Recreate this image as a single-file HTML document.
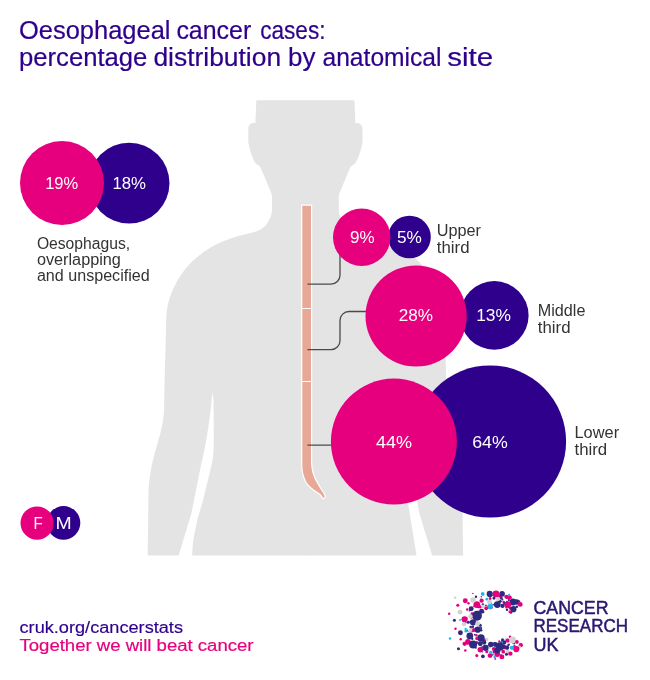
<!DOCTYPE html>
<html><head><meta charset="utf-8"><title>Oesophageal cancer cases</title>
<style>html,body{margin:0;padding:0;background:#fff}svg{display:block}text{font-family:"Liberation Sans",sans-serif}</style>
</head><body>
<svg width="650" height="680" viewBox="0 0 650 680">
<rect width="650" height="680" fill="#fff"/>
<text x="19.0" y="38.6" font-size="25" fill="#2e008b" text-anchor="start" textLength="151.5" lengthAdjust="spacingAndGlyphs" stroke="#2e008b" stroke-width="0.2">Oesophageal</text>
<text x="176.4" y="38.6" font-size="25" fill="#2e008b" text-anchor="start" textLength="74.9" lengthAdjust="spacingAndGlyphs" stroke="#2e008b" stroke-width="0.2">cancer</text>
<text x="260.2" y="38.6" font-size="25" fill="#2e008b" text-anchor="start" textLength="65.3" lengthAdjust="spacingAndGlyphs" stroke="#2e008b" stroke-width="0.2">cases:</text>
<text x="19.0" y="66.3" font-size="25" fill="#2e008b" text-anchor="start" textLength="128.4" lengthAdjust="spacingAndGlyphs" stroke="#2e008b" stroke-width="0.2">percentage</text>
<text x="153.4" y="66.3" font-size="25" fill="#2e008b" text-anchor="start" textLength="127.7" lengthAdjust="spacingAndGlyphs" stroke="#2e008b" stroke-width="0.2">distribution</text>
<text x="288.1" y="66.3" font-size="25" fill="#2e008b" text-anchor="start" textLength="27.4" lengthAdjust="spacingAndGlyphs" stroke="#2e008b" stroke-width="0.2">by</text>
<text x="322.5" y="66.3" font-size="25" fill="#2e008b" text-anchor="start" textLength="119.0" lengthAdjust="spacingAndGlyphs" stroke="#2e008b" stroke-width="0.2">anatomical</text>
<text x="447.2" y="66.3" font-size="25" fill="#2e008b" text-anchor="start" textLength="45.9" lengthAdjust="spacingAndGlyphs" stroke="#2e008b" stroke-width="0.2">site</text>
<path d="M305.9,100.2 L257.2,100.2 Q256.3,100.2 256.3,101.2 L255.4,123.2 C252,122.6 248.3,124.5 248.3,129 L248.3,141.5 C249,147 250.5,152 252.3,156.5 C253.5,160 255,163.6 257.5,164.8 C259.5,165.6 260.2,167 261,168.5 L263.5,174.5 L269.8,189.5 C271.2,192.8 272,194.5 272,197.5 L272,209 C272,213 271.2,215.8 270.2,217.8 C268.5,221.5 266.8,224.3 264.6,226.5 C261,230 256.5,231.4 252.3,232.5 C246,234.2 239,235.8 231.2,238.2 C224,240.6 217.5,243.4 211.5,246.9 C205,250.7 199.5,254.8 194.3,259.6 C189.5,264 185.5,268.6 182,273.6 C178,279.4 174.8,285 172.2,291 C169.8,296.6 168.2,302.3 167.2,308.3 C166.3,314 166,320 166,328 L165.2,360 L164.6,380 L164,410 C163.8,424 158.5,440 154.6,453.8 C152,463 148.9,478 148.5,492 L147.7,555.4 L305.9,555.4 Z" fill="#e4e4e4"/>
<path d="M304.9,100.2 L353.6,100.2 Q354.5,100.2 354.5,101.2 L355.4,123.2 C358.8,122.6 362.5,124.5 362.5,129 L362.5,141.5 C361.8,147 360.3,152 358.5,156.5 C357.3,160 355.8,163.6 353.3,164.8 C351.3,165.6 350.6,167 349.8,168.5 L347.3,174.5 L341.0,189.5 C339.6,192.8 338.8,194.5 338.8,197.5 L338.8,209 C338.8,213 339.6,215.8 340.6,217.8 C342.3,221.5 344.0,224.3 346.2,226.5 C349.8,230 354.3,231.4 358.5,232.5 C364.8,234.2 371.8,235.8 379.6,238.2 C386.8,240.6 393.3,243.4 399.3,246.9 C405.8,250.7 411.3,254.8 416.5,259.6 C421.3,264 425.3,268.6 428.8,273.6 C432.8,279.4 436.0,285 438.6,291 C441.0,296.6 442.6,302.3 443.6,308.3 C444.5,314 444.8,320 444.8,328 L445.6,360 L446.2,380 L446.8,410 C447.0,424 452.3,440 456.2,453.8 C458.8,463 461.9,478 462.3,492 L463.1,555.4 L304.9,555.4 Z" fill="#e4e4e4"/>
<path d="M212.3,392 C211.5,404 210,416 208.5,426 C207.3,434 206,442 204.6,449 L200,470 L191.5,513 L178.5,556 L192.1,556 C192.4,550 192.8,544 193.5,538.8 L197.4,519.4 L202.6,501.8 L207.0,484.1 L210.8,468.2 C212.5,462 213.3,456 213.5,450.6 L213.8,441.5 L213.5,400 Z" fill="#fff"/>
<path d="M398.5,392 C399.3,404 400.8,416 402.3,426 C403.5,434 404.8,442 406.2,449 L410.8,470 L419.3,513 L432.3,556 L416.6,556 L410.7,519.4 L407.8,501.8 L403.8,484.1 L400.0,468.2 C398.3,462 397.5,456 397.3,450.6 L397.0,441.5 L397.3,400 Z" fill="#fff"/>
<path d="M302.3,205.8 L311,205.8 L311,463.7 C311.2,467 311.8,470 312.5,472.9 C313.5,476.5 315,479.5 316.5,482.2 C318,485 319.5,487.6 321.1,490.1 C322.5,492.2 323.8,494 324.4,495.4 C324.8,496.6 324.3,497.6 323.3,498.2 C322.5,496.5 321.6,495.2 320.4,494.1 C318.6,492.7 316.5,491.5 314.5,490.1 C312.3,488.5 310.2,486.8 308.5,484.8 C306.3,482.2 304.8,479 303.9,475.6 C302.8,472 302.3,468 302.3,463.7 Z" fill="#fff" stroke="#fff" stroke-width="2.4" stroke-linejoin="round"/>
<path d="M302.3,205.8 L311,205.8 L311,463.7 C311.2,467 311.8,470 312.5,472.9 C313.5,476.5 315,479.5 316.5,482.2 C318,485 319.5,487.6 321.1,490.1 C322.5,492.2 323.8,494 324.4,495.4 C324.8,496.6 324.3,497.6 323.3,498.2 C322.5,496.5 321.6,495.2 320.4,494.1 C318.6,492.7 316.5,491.5 314.5,490.1 C312.3,488.5 310.2,486.8 308.5,484.8 C306.3,482.2 304.8,479 303.9,475.6 C302.8,472 302.3,468 302.3,463.7 Z" fill="#e8a896"/>
<path d="M302.3,308.5H311M302.3,381.5H311" stroke="#fff" stroke-width="1.2"/>
<path d="M307.5,284.2H331a9,9 0 0 0 9,-9V255 M307.5,349.7H331a9,9 0 0 0 9,-9V320.5a9,9 0 0 1 9,-9H368 M307.5,445.2H333" fill="none" stroke="#4a4a4a" stroke-width="1.3"/>
<circle cx="129.1" cy="183.1" r="40.4" fill="#2e008b"/>
<circle cx="62.0" cy="183.0" r="42.0" fill="#e6007e"/>
<circle cx="409.5" cy="237.0" r="21.3" fill="#2e008b"/>
<circle cx="361.7" cy="237.2" r="28.7" fill="#e6007e"/>
<circle cx="494.3" cy="315.4" r="34.3" fill="#2e008b"/>
<circle cx="416.1" cy="316.0" r="50.6" fill="#e6007e"/>
<circle cx="490.0" cy="441.5" r="76.1" fill="#2e008b"/>
<circle cx="393.9" cy="441.6" r="63.0" fill="#e6007e"/>
<circle cx="63.5" cy="522.9" r="16.8" fill="#2e008b"/>
<circle cx="37.1" cy="523.1" r="16.6" fill="#e6007e"/>
<text x="45.2" y="188.9" font-size="17" fill="#fff" text-anchor="start" textLength="33.0" lengthAdjust="spacingAndGlyphs">19%</text>
<text x="112.4" y="188.9" font-size="17" fill="#fff" text-anchor="start" textLength="33.6" lengthAdjust="spacingAndGlyphs">18%</text>
<text x="350.0" y="243.0" font-size="17" fill="#fff" text-anchor="start" textLength="24.6" lengthAdjust="spacingAndGlyphs">9%</text>
<text x="396.9" y="242.8" font-size="17" fill="#fff" text-anchor="start" textLength="24.9" lengthAdjust="spacingAndGlyphs">5%</text>
<text x="398.8" y="321.0" font-size="17" fill="#fff" text-anchor="start" textLength="34.3" lengthAdjust="spacingAndGlyphs">28%</text>
<text x="476.2" y="321.0" font-size="17" fill="#fff" text-anchor="start" textLength="34.8" lengthAdjust="spacingAndGlyphs">13%</text>
<text x="375.9" y="447.6" font-size="17" fill="#fff" text-anchor="start" textLength="36.1" lengthAdjust="spacingAndGlyphs">44%</text>
<text x="472.2" y="447.8" font-size="17" fill="#fff" text-anchor="start" textLength="35.6" lengthAdjust="spacingAndGlyphs">64%</text>
<text x="33.4" y="529.3" font-size="17" fill="#fff" text-anchor="start" textLength="9.2" lengthAdjust="spacingAndGlyphs">F</text>
<text x="55.5" y="529.3" font-size="17" fill="#fff" text-anchor="start" textLength="16.2" lengthAdjust="spacingAndGlyphs">M</text>
<text x="36.9" y="248.6" font-size="16" fill="#333333" text-anchor="start" textLength="93.2" lengthAdjust="spacingAndGlyphs">Oesophagus,</text>
<text x="36.9" y="264.9" font-size="16" fill="#333333" text-anchor="start" textLength="84.0" lengthAdjust="spacingAndGlyphs">overlapping</text>
<text x="36.9" y="281.1" font-size="16" fill="#333333" text-anchor="start" textLength="112.8" lengthAdjust="spacingAndGlyphs">and unspecified</text>
<text x="436.8" y="236.0" font-size="16" fill="#333333" text-anchor="start" textLength="44.2" lengthAdjust="spacingAndGlyphs">Upper</text>
<text x="436.8" y="252.6" font-size="16" fill="#333333" text-anchor="start" textLength="32.7" lengthAdjust="spacingAndGlyphs">third</text>
<text x="537.8" y="315.9" font-size="16" fill="#333333" text-anchor="start" textLength="47.6" lengthAdjust="spacingAndGlyphs">Middle</text>
<text x="537.8" y="332.7" font-size="16" fill="#333333" text-anchor="start" textLength="32.7" lengthAdjust="spacingAndGlyphs">third</text>
<text x="574.5" y="437.7" font-size="16" fill="#333333" text-anchor="start" textLength="44.6" lengthAdjust="spacingAndGlyphs">Lower</text>
<text x="574.5" y="454.5" font-size="16" fill="#333333" text-anchor="start" textLength="32.7" lengthAdjust="spacingAndGlyphs">third</text>
<text x="19.5" y="633.1" font-size="16" fill="#2e008b" text-anchor="start" textLength="163.5" lengthAdjust="spacingAndGlyphs" stroke="#2e008b" stroke-width="0.15">cruk.org/cancerstats</text>
<text x="19.5" y="650.5" font-size="16" fill="#e6007e" text-anchor="start" textLength="234.0" lengthAdjust="spacingAndGlyphs" stroke="#e6007e" stroke-width="0.2">Together we will beat cancer</text>
<text x="533.5" y="613.6" font-size="18" fill="#2b1770" text-anchor="start" textLength="75.0" lengthAdjust="spacingAndGlyphs" stroke="#2b1770" stroke-width="0.5">CANCER</text>
<text x="533.5" y="632.1" font-size="18" fill="#2b1770" text-anchor="start" textLength="94.5" lengthAdjust="spacingAndGlyphs" stroke="#2b1770" stroke-width="0.5">RESEARCH</text>
<text x="533.5" y="650.5" font-size="18" fill="#2b1770" text-anchor="start" textLength="25.0" lengthAdjust="spacingAndGlyphs" stroke="#2b1770" stroke-width="0.5">UK</text>
<circle cx="506.9" cy="601.7" r="0.96" fill="#2e2a80"/>
<circle cx="503.3" cy="640.8" r="1.29" fill="#1fb4e8"/>
<circle cx="519.8" cy="604.7" r="1.05" fill="#e6007e"/>
<circle cx="504.7" cy="648.0" r="1.48" fill="#1fb4e8"/>
<circle cx="494.3" cy="651.8" r="1.62" fill="#e6007e"/>
<circle cx="494.5" cy="650.9" r="1.52" fill="#2e2a80"/>
<circle cx="498.5" cy="600.6" r="1.51" fill="#2e2a80"/>
<circle cx="501.3" cy="642.2" r="1.14" fill="#e6007e"/>
<circle cx="493.2" cy="604.6" r="0.87" fill="#2e2a80"/>
<circle cx="483.9" cy="641.5" r="1.63" fill="#2e2a80"/>
<circle cx="508.9" cy="600.1" r="1.10" fill="#2e2a80"/>
<circle cx="501.1" cy="597.9" r="1.57" fill="#2e2a80"/>
<circle cx="502.4" cy="599.4" r="0.98" fill="#2e2a80"/>
<circle cx="474.7" cy="634.6" r="0.93" fill="#2e2a80"/>
<circle cx="480.6" cy="598.6" r="0.54" fill="#d2d2d2"/>
<circle cx="503.9" cy="648.3" r="1.01" fill="#2e2a80"/>
<circle cx="489.6" cy="647.8" r="1.24" fill="#d2d2d2"/>
<circle cx="499.2" cy="641.4" r="1.04" fill="#e6007e"/>
<circle cx="504.1" cy="652.6" r="0.54" fill="#2e2a80"/>
<circle cx="485.0" cy="639.9" r="1.35" fill="#e6007e"/>
<circle cx="509.1" cy="594.9" r="1.12" fill="#1fb4e8"/>
<circle cx="487.0" cy="646.3" r="0.90" fill="#e6007e"/>
<circle cx="467.1" cy="630.5" r="1.05" fill="#e6007e"/>
<circle cx="502.3" cy="642.1" r="0.94" fill="#1fb4e8"/>
<circle cx="474.5" cy="622.4" r="1.52" fill="#d2d2d2"/>
<circle cx="471.3" cy="623.8" r="0.81" fill="#2e2a80"/>
<circle cx="486.5" cy="646.5" r="1.16" fill="#2e2a80"/>
<circle cx="493.0" cy="654.3" r="1.16" fill="#1fb4e8"/>
<circle cx="483.6" cy="642.6" r="1.56" fill="#d2d2d2"/>
<circle cx="499.0" cy="649.3" r="1.62" fill="#e6007e"/>
<circle cx="476.3" cy="621.4" r="1.45" fill="#d2d2d2"/>
<circle cx="472.0" cy="613.8" r="1.48" fill="#e6007e"/>
<circle cx="499.8" cy="596.5" r="1.65" fill="#e6007e"/>
<circle cx="465.6" cy="628.9" r="1.11" fill="#1fb4e8"/>
<circle cx="481.1" cy="630.2" r="1.27" fill="#2e2a80"/>
<circle cx="480.2" cy="625.3" r="1.53" fill="#2e2a80"/>
<circle cx="507.9" cy="645.6" r="1.29" fill="#e6007e"/>
<circle cx="486.3" cy="650.2" r="0.80" fill="#1fb4e8"/>
<circle cx="519.5" cy="601.2" r="0.87" fill="#e6007e"/>
<circle cx="506.3" cy="607.6" r="1.01" fill="#e6007e"/>
<circle cx="471.0" cy="629.0" r="0.97" fill="#d2d2d2"/>
<circle cx="471.4" cy="617.6" r="1.24" fill="#e6007e"/>
<circle cx="471.7" cy="630.3" r="1.62" fill="#e6007e"/>
<circle cx="469.8" cy="637.4" r="0.78" fill="#e6007e"/>
<circle cx="472.3" cy="638.9" r="1.12" fill="#2e2a80"/>
<circle cx="466.7" cy="618.1" r="0.85" fill="#2e2a80"/>
<circle cx="487.6" cy="607.0" r="1.03" fill="#e6007e"/>
<circle cx="487.1" cy="650.5" r="1.48" fill="#1fb4e8"/>
<circle cx="514.2" cy="602.5" r="0.97" fill="#e6007e"/>
<circle cx="471.8" cy="631.2" r="1.38" fill="#e6007e"/>
<circle cx="491.4" cy="595.3" r="1.17" fill="#2e2a80"/>
<circle cx="480.6" cy="628.1" r="1.54" fill="#2e2a80"/>
<circle cx="478.4" cy="607.0" r="1.37" fill="#e6007e"/>
<circle cx="514.4" cy="646.3" r="1.31" fill="#e6007e"/>
<circle cx="479.9" cy="628.4" r="0.81" fill="#d2d2d2"/>
<circle cx="476.6" cy="637.9" r="1.40" fill="#d2d2d2"/>
<circle cx="504.9" cy="647.4" r="1.63" fill="#e6007e"/>
<circle cx="481.3" cy="596.8" r="0.70" fill="#2e2a80"/>
<circle cx="494.4" cy="643.2" r="1.11" fill="#2e2a80"/>
<circle cx="503.7" cy="602.1" r="1.32" fill="#e6007e"/>
<circle cx="474.3" cy="606.2" r="1.02" fill="#2e2a80"/>
<circle cx="504.6" cy="603.4" r="1.39" fill="#2e2a80"/>
<circle cx="490.2" cy="603.0" r="1.64" fill="#e6007e"/>
<circle cx="482.0" cy="647.1" r="0.97" fill="#2e2a80"/>
<circle cx="480.2" cy="606.8" r="1.61" fill="#e6007e"/>
<circle cx="519.0" cy="647.4" r="0.60" fill="#d2d2d2"/>
<circle cx="491.4" cy="607.7" r="1.34" fill="#e6007e"/>
<circle cx="474.0" cy="629.2" r="1.28" fill="#1fb4e8"/>
<circle cx="505.2" cy="596.9" r="1.14" fill="#d2d2d2"/>
<circle cx="506.3" cy="640.3" r="0.89" fill="#e6007e"/>
<circle cx="478.8" cy="611.0" r="1.32" fill="#d2d2d2"/>
<circle cx="507.0" cy="609.8" r="1.24" fill="#2e2a80"/>
<circle cx="476.9" cy="642.6" r="1.61" fill="#e6007e"/>
<circle cx="507.8" cy="597.7" r="1.43" fill="#e6007e"/>
<circle cx="511.0" cy="612.5" r="1.28" fill="#2e2a80"/>
<circle cx="505.9" cy="640.1" r="1.07" fill="#2e2a80"/>
<circle cx="479.8" cy="597.5" r="0.54" fill="#d2d2d2"/>
<circle cx="469.4" cy="610.8" r="0.83" fill="#e6007e"/>
<circle cx="477.6" cy="604.9" r="1.32" fill="#2e2a80"/>
<circle cx="505.0" cy="641.8" r="1.20" fill="#e6007e"/>
<circle cx="497.6" cy="647.1" r="1.31" fill="#2e2a80"/>
<circle cx="509.0" cy="644.4" r="1.01" fill="#2e2a80"/>
<circle cx="482.6" cy="651.8" r="0.66" fill="#2e2a80"/>
<circle cx="470.7" cy="627.0" r="1.35" fill="#2e2a80"/>
<circle cx="497.7" cy="652.5" r="0.85" fill="#2e2a80"/>
<circle cx="469.0" cy="636.0" r="0.84" fill="#1fb4e8"/>
<circle cx="510.3" cy="608.2" r="1.43" fill="#e6007e"/>
<circle cx="505.5" cy="640.0" r="0.88" fill="#1fb4e8"/>
<circle cx="494.6" cy="656.0" r="1.10" fill="#d2d2d2"/>
<circle cx="488.6" cy="606.8" r="1.36" fill="#1fb4e8"/>
<circle cx="501.0" cy="655.3" r="1.06" fill="#2e2a80"/>
<circle cx="498.3" cy="605.1" r="1.14" fill="#d2d2d2"/>
<circle cx="478.1" cy="638.4" r="1.66" fill="#e6007e"/>
<circle cx="493.4" cy="650.9" r="0.80" fill="#e6007e"/>
<circle cx="483.0" cy="640.3" r="0.85" fill="#2e2a80"/>
<circle cx="511.9" cy="610.3" r="1.02" fill="#d2d2d2"/>
<circle cx="516.8" cy="606.8" r="1.31" fill="#2e2a80"/>
<circle cx="479.9" cy="649.5" r="0.66" fill="#e6007e"/>
<circle cx="520.2" cy="643.9" r="1.16" fill="#d2d2d2"/>
<circle cx="483.2" cy="612.0" r="1.17" fill="#2e2a80"/>
<circle cx="465.5" cy="622.8" r="1.03" fill="#e6007e"/>
<circle cx="495.0" cy="604.5" r="1.30" fill="#e6007e"/>
<circle cx="503.2" cy="651.7" r="0.79" fill="#e6007e"/>
<circle cx="475.8" cy="647.7" r="1.02" fill="#2e2a80"/>
<circle cx="494.7" cy="651.7" r="1.09" fill="#e6007e"/>
<circle cx="513.3" cy="607.6" r="0.85" fill="#d2d2d2"/>
<circle cx="492.1" cy="655.3" r="0.56" fill="#e6007e"/>
<circle cx="500.1" cy="601.3" r="1.66" fill="#2e2a80"/>
<circle cx="514.2" cy="643.5" r="0.88" fill="#2e2a80"/>
<circle cx="485.9" cy="605.5" r="0.99" fill="#e6007e"/>
<circle cx="476.8" cy="628.7" r="1.70" fill="#2e2a80"/>
<circle cx="470.9" cy="621.7" r="1.24" fill="#2e2a80"/>
<circle cx="513.1" cy="642.4" r="1.19" fill="#2e2a80"/>
<circle cx="506.5" cy="639.1" r="1.59" fill="#d2d2d2"/>
<circle cx="486.8" cy="599.2" r="1.36" fill="#1fb4e8"/>
<circle cx="517.0" cy="649.7" r="1.15" fill="#d2d2d2"/>
<circle cx="486.9" cy="639.4" r="1.53" fill="#d2d2d2"/>
<circle cx="471.4" cy="627.4" r="0.96" fill="#e6007e"/>
<circle cx="468.3" cy="631.3" r="0.65" fill="#1fb4e8"/>
<circle cx="472.7" cy="630.2" r="1.63" fill="#e6007e"/>
<circle cx="482.7" cy="593.9" r="1.85" fill="#1fb4e8"/>
<circle cx="489.7" cy="593.9" r="3.09" fill="#2e2a80"/>
<circle cx="496.0" cy="593.9" r="3.39" fill="#e6007e"/>
<circle cx="502.1" cy="593.9" r="2.78" fill="#2e2a80"/>
<circle cx="506.5" cy="596.8" r="2.16" fill="#e6007e"/>
<circle cx="510.0" cy="597.4" r="1.85" fill="#e6007e"/>
<circle cx="513.0" cy="602.0" r="3.39" fill="#2e2a80"/>
<circle cx="516.7" cy="602.0" r="2.78" fill="#2e2a80"/>
<circle cx="520.2" cy="604.4" r="2.47" fill="#e6007e"/>
<circle cx="507.8" cy="604.6" r="3.39" fill="#e6007e"/>
<circle cx="513.4" cy="609.2" r="3.09" fill="#2e2a80"/>
<circle cx="510.0" cy="611.8" r="1.54" fill="#e6007e"/>
<circle cx="497.3" cy="604.6" r="3.39" fill="#2e2a80"/>
<circle cx="502.5" cy="605.9" r="2.16" fill="#2e2a80"/>
<circle cx="490.1" cy="606.6" r="2.78" fill="#1fb4e8"/>
<circle cx="489.5" cy="602.0" r="2.47" fill="#d2d2d2"/>
<circle cx="498.0" cy="599.1" r="2.16" fill="#d2d2d2"/>
<circle cx="494.0" cy="598.1" r="1.54" fill="#2e2a80"/>
<circle cx="490.1" cy="598.5" r="1.39" fill="#e6007e"/>
<circle cx="481.6" cy="600.7" r="2.16" fill="#e6007e"/>
<circle cx="476.8" cy="604.6" r="3.39" fill="#e6007e"/>
<circle cx="473.1" cy="600.0" r="2.78" fill="#d2d2d2"/>
<circle cx="476.0" cy="596.8" r="1.23" fill="#2e2a80"/>
<circle cx="472.9" cy="593.5" r="0.77" fill="#e6007e"/>
<circle cx="465.3" cy="600.7" r="2.47" fill="#e6007e"/>
<circle cx="468.5" cy="603.3" r="1.23" fill="#e6007e"/>
<circle cx="457.8" cy="605.3" r="1.54" fill="#e6007e"/>
<circle cx="455.2" cy="597.7" r="1.23" fill="#d2d2d2"/>
<circle cx="460.0" cy="612.1" r="2.47" fill="#d2d2d2"/>
<circle cx="449.2" cy="613.8" r="1.23" fill="#e6007e"/>
<circle cx="471.2" cy="608.8" r="2.47" fill="#2e2a80"/>
<circle cx="467.2" cy="609.6" r="1.23" fill="#e6007e"/>
<circle cx="482.9" cy="604.6" r="1.23" fill="#2e2a80"/>
<circle cx="483.2" cy="606.3" r="1.85" fill="#d2d2d2"/>
<circle cx="486.2" cy="608.3" r="1.85" fill="#e6007e"/>
<circle cx="481.6" cy="611.2" r="2.47" fill="#2e2a80"/>
<circle cx="477.0" cy="615.7" r="4.94" fill="#2e2a80"/>
<circle cx="470.5" cy="616.4" r="2.16" fill="#d2d2d2"/>
<circle cx="464.6" cy="619.3" r="3.09" fill="#e6007e"/>
<circle cx="454.4" cy="620.3" r="1.54" fill="#2e2a80"/>
<circle cx="460.0" cy="620.0" r="0.93" fill="#1fb4e8"/>
<circle cx="468.3" cy="622.3" r="1.54" fill="#2e2a80"/>
<circle cx="473.1" cy="622.3" r="3.09" fill="#2e2a80"/>
<circle cx="477.7" cy="623.6" r="2.47" fill="#d2d2d2"/>
<circle cx="464.0" cy="624.2" r="2.16" fill="#d2d2d2"/>
<circle cx="455.5" cy="628.8" r="1.23" fill="#e6007e"/>
<circle cx="472.9" cy="626.8" r="1.23" fill="#2e2a80"/>
<circle cx="474.0" cy="630.1" r="1.85" fill="#e6007e"/>
<circle cx="477.7" cy="629.7" r="3.09" fill="#2e2a80"/>
<circle cx="470.5" cy="630.1" r="1.85" fill="#d2d2d2"/>
<circle cx="465.9" cy="631.0" r="1.54" fill="#1fb4e8"/>
<circle cx="460.4" cy="632.7" r="2.47" fill="#2e2a80"/>
<circle cx="450.0" cy="638.4" r="1.23" fill="#1fb4e8"/>
<circle cx="469.8" cy="636.0" r="3.39" fill="#2e2a80"/>
<circle cx="476.4" cy="635.3" r="1.23" fill="#e6007e"/>
<circle cx="481.0" cy="638.0" r="3.70" fill="#2e2a80"/>
<circle cx="476.8" cy="638.6" r="1.54" fill="#e6007e"/>
<circle cx="467.9" cy="641.9" r="2.78" fill="#e6007e"/>
<circle cx="464.6" cy="643.8" r="2.16" fill="#e6007e"/>
<circle cx="460.7" cy="639.3" r="1.23" fill="#e6007e"/>
<circle cx="473.1" cy="644.5" r="4.01" fill="#2e2a80"/>
<circle cx="480.3" cy="643.8" r="2.47" fill="#2e2a80"/>
<circle cx="484.2" cy="642.5" r="2.16" fill="#2e2a80"/>
<circle cx="458.5" cy="648.8" r="1.54" fill="#2e2a80"/>
<circle cx="465.3" cy="650.4" r="1.23" fill="#e6007e"/>
<circle cx="480.3" cy="649.7" r="2.78" fill="#e6007e"/>
<circle cx="485.5" cy="647.8" r="3.09" fill="#2e2a80"/>
<circle cx="490.8" cy="644.5" r="2.78" fill="#2e2a80"/>
<circle cx="495.3" cy="644.5" r="2.47" fill="#2e2a80"/>
<circle cx="499.9" cy="646.5" r="4.32" fill="#2e2a80"/>
<circle cx="494.0" cy="649.1" r="2.16" fill="#e6007e"/>
<circle cx="504.5" cy="642.5" r="1.85" fill="#2e2a80"/>
<circle cx="507.8" cy="640.6" r="2.16" fill="#e6007e"/>
<circle cx="510.0" cy="636.7" r="1.23" fill="#e6007e"/>
<circle cx="512.6" cy="639.9" r="3.39" fill="#d2d2d2"/>
<circle cx="516.9" cy="641.9" r="1.85" fill="#e6007e"/>
<circle cx="520.8" cy="645.2" r="2.16" fill="#e6007e"/>
<circle cx="519.5" cy="647.1" r="1.54" fill="#d2d2d2"/>
<circle cx="516.3" cy="649.1" r="3.09" fill="#e6007e"/>
<circle cx="512.0" cy="647.8" r="2.16" fill="#1fb4e8"/>
<circle cx="507.1" cy="647.8" r="2.16" fill="#2e2a80"/>
<circle cx="507.8" cy="651.7" r="1.85" fill="#d2d2d2"/>
<circle cx="510.4" cy="653.7" r="2.16" fill="#e6007e"/>
<circle cx="506.5" cy="654.3" r="1.54" fill="#2e2a80"/>
<circle cx="501.9" cy="656.9" r="2.47" fill="#e6007e"/>
<circle cx="497.3" cy="654.3" r="2.78" fill="#e6007e"/>
<circle cx="494.7" cy="656.9" r="1.23" fill="#1fb4e8"/>
<circle cx="490.1" cy="655.6" r="2.47" fill="#e6007e"/>
<circle cx="490.8" cy="652.3" r="1.54" fill="#1fb4e8"/>
<circle cx="482.9" cy="656.3" r="1.85" fill="#2e2a80"/>
<circle cx="476.8" cy="655.6" r="1.54" fill="#e6007e"/>
<circle cx="486.8" cy="651.7" r="1.54" fill="#e6007e"/>
<circle cx="495.3" cy="658.9" r="0.93" fill="#e6007e"/>
<circle cx="503.2" cy="651.7" r="1.85" fill="#e6007e"/>
<circle cx="502.5" cy="639.9" r="1.54" fill="#2e2a80"/>
<circle cx="497.3" cy="650.4" r="3.09" fill="#2e2a80"/>
<circle cx="503.8" cy="646.5" r="2.16" fill="#2e2a80"/>
</svg>
</body></html>
